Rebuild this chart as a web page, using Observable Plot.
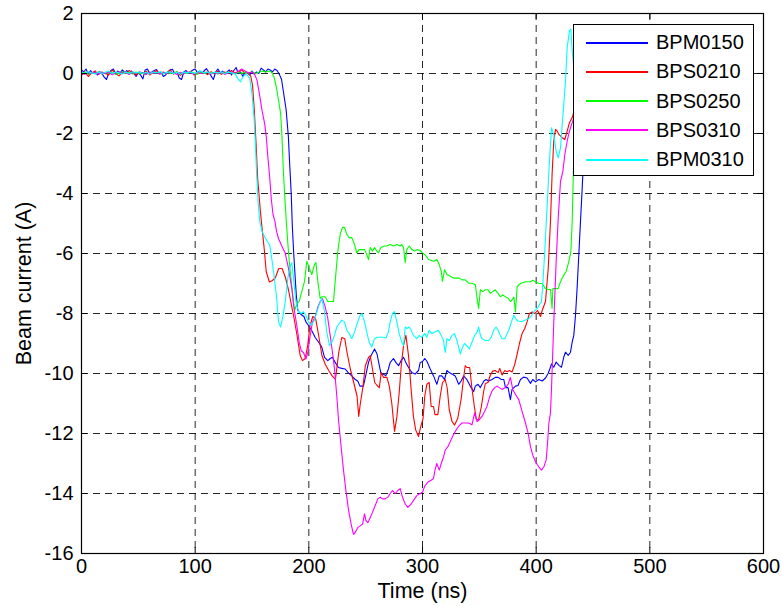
<!DOCTYPE html>
<html>
<head>
<meta charset="utf-8">
<script src="https://cdn.jsdelivr.net/npm/d3@7"></script>
<script src="https://cdn.jsdelivr.net/npm/@observablehq/plot@0.6"></script>
<style>
  html, body { margin: 0; padding: 0; background: #fff; }
  #wrap { position: relative; width: 782px; height: 606px; font-family: "Liberation Sans", Arial, Helvetica, sans-serif; }
  #legend { position: absolute; left: 573px; top: 24px; width: 181px; height: 152px; border: 1px solid #000; background: #fff; box-sizing: border-box; }
  .row { position: absolute; left: 0; height: 29px; display: flex; align-items: center; font-size: 20px; color: #000; }
  .sw { display: inline-block; width: 62px; height: 2px; margin-left: 12px; margin-right: 8px; }
</style>
</head>
<body>
<div id="wrap"><div id="chart"></div><div id="legend"></div></div>
<script>
// ---- data (time in ns, beam current in A) ----
const seriesNames = ["BPM0150", "BPS0210", "BPS0250", "BPS0310", "BPM0310"];
const seriesColors = ["#0000ff", "#ff0000", "#00ff00", "#ff00ff", "#00ffff"];
const xTicks = [0, 100, 200, 300, 400, 500, 600];
const yTicks = [-16, -14, -12, -10, -8, -6, -4, -2, 0, 2];

const bpm0150 = [[0,0.12],[2,0.05],[4,0.15],[6,-0.02],[8,0.1],[10,0.0],[12,0.08],[14,-0.05],[16,0.06],[18,0.0],[20,-0.12],[22,-0.2],[24,0.02],[26,0.1],[28,0.15],[30,0.0],[32,0.08],[34,0.02],[36,0.12],[38,0.03],[40,0.1],[42,-0.02],[44,0.08],[46,0.0],[48,-0.1],[50,0.02],[52,-0.05],[54,-0.18],[56,0.12],[58,0.15],[60,0.0],[62,0.05],[64,0.1],[66,0.13],[68,0.0],[70,0.05],[72,-0.1],[74,-0.05],[76,0.05],[78,0.12],[80,0.14],[82,0.0],[84,0.05],[86,-0.15],[88,-0.2],[90,0.05],[92,0.1],[94,0.0],[96,0.05],[98,0.12],[100,0.15],[102,0.02],[104,0.08],[106,0.0],[108,0.1],[110,0.16],[112,0.05],[114,-0.08],[116,-0.2],[118,0.05],[120,0.15],[122,0.02],[124,0.08],[126,0.0],[128,0.05],[130,0.12],[132,-0.05],[134,0.1],[136,0.2],[138,0.0],[140,0.05],[142,-0.1],[144,0.05],[146,0.02],[148,-0.05],[150,0.08],[152,-0.02],[154,0.05],[156,0.0],[158,0.18],[160,0.12],[162,0.05],[164,0.15],[166,0.12],[168,0.05],[170,0.15],[172,0.1],[174,-0.02],[176,-0.2],[178,-0.7],[180,-1.2],[182,-2.1],[183,-2.9],[184.5,-4.0],[185.5,-5.1],[186.7,-6.0],[188,-6.8],[189,-7.4],[190.3,-7.9],[192.5,-8.0],[194,-8.06],[195.7,-8.1],[197.4,-8.28],[199.7,-8.4],[203,-8.6],[205.6,-8.8],[208.5,-8.95],[211.4,-9.12],[213.8,-9.46],[216.7,-9.57],[218.8,-9.5],[220.8,-9.46],[223.2,-9.63],[226,-9.8],[229,-9.83],[232,-9.85],[235,-9.99],[237.8,-10.08],[240.8,-10.2],[243,-10.25],[245,-10.42],[248,-10.42],[250,-10.08],[252.5,-9.63],[254.8,-9.4],[257.8,-9.18],[260,-9.35],[262,-9.74],[263.6,-10.02],[265.7,-10.02],[267.7,-10.08],[270,-9.85],[271.6,-9.63],[274.5,-9.5],[276.5,-9.63],[279,-9.74],[281.2,-9.57],[283.3,-9.46],[285.3,-9.63],[287.7,-9.8],[290.6,-9.97],[293.5,-10.02],[296.5,-9.9],[298,-9.63],[300,-9.6],[302,-9.5],[304,-9.6],[306.8,-9.85],[309.7,-10.08],[312.6,-10.36],[314.7,-10.08],[317,-10.08],[319.4,-10.2],[321.5,-9.9],[323.5,-9.97],[325.9,-10.02],[328.8,-10.08],[331.8,-10.36],[334,-10.25],[336.2,-10.08],[339,-10.2],[342,-10.42],[345,-10.6],[346.5,-10.42],[348.8,-10.36],[350.9,-10.47],[352.4,-10.36],[354,-10.25],[355.9,-10.2],[358.2,-10.25],[361.2,-10.2],[364,-10.13],[366.5,-10.13],[369.4,-10.2],[371.5,-10.2],[373,-10.47],[375.3,-10.47],[377.3,-10.87],[378.8,-10.53],[381.8,-10.42],[384,-10.4],[386.2,-10.2],[389,-10.12],[392,-10.15],[395,-10.33],[397,-10.2],[399.4,-10.28],[402.3,-10.2],[405.3,-10.25],[408.2,-10.15],[410.5,-10.0],[412,-9.85],[413.5,-9.68],[415.5,-9.79],[417.6,-9.62],[420,-9.73],[422.3,-9.79],[424.3,-9.45],[425.8,-9.29],[428.2,-9.4],[430.2,-9.29],[431.7,-8.95],[433.1,-8.73],[434.6,-8.06],[436,-7.17],[437.5,-6.05],[439,-4.93],[440.5,-3.82],[442,-2.6],[443.5,-1.5],[445,-0.6],[447,-0.2],[450,0.0]];

const bps0210 = [[0,-0.05],[3,0.05],[6,-0.1],[9,0.02],[12,0.08],[15,-0.03],[18,0.05],[21,0.0],[24,-0.05],[27,0.12],[30,0.0],[33,-0.08],[36,0.05],[39,0.0],[42,0.1],[45,0.02],[48,-0.05],[51,0.05],[54,0.0],[57,0.08],[60,-0.05],[63,0.03],[66,0.1],[69,-0.02],[72,0.05],[75,0.0],[78,0.12],[81,-0.02],[84,0.05],[87,-0.06],[90,0.04],[93,0.0],[96,0.08],[99,-0.05],[102,0.03],[105,0.0],[108,0.05],[111,-0.04],[114,0.06],[117,0.0],[120,0.08],[123,-0.03],[126,0.05],[129,0.0],[132,0.1],[135,0.02],[138,0.05],[141,0.12],[144,0.0],[147,0.02],[149,-0.1],[150.5,-0.4],[152,-1.2],[153.6,-2.35],[155,-3.5],[157.4,-4.6],[158.8,-5.13],[160.9,-5.9],[162.5,-6.6],[165.3,-6.95],[168,-6.9],[170.6,-6.8],[173.5,-6.5],[176.5,-6.5],[179.4,-6.8],[182,-7.2],[184.6,-7.7],[186.5,-8.05],[189.5,-8.7],[192.4,-9.4],[194.4,-9.57],[196.8,-9.5],[199,-9.07],[201,-8.4],[203.5,-8.1],[206,-8.17],[208.5,-8.7],[211.5,-9.4],[214.5,-9.7],[217.5,-9.9],[220.5,-10.08],[223.4,-10.2],[226.3,-9.3],[229,-8.8],[231.6,-8.84],[233.6,-9.3],[236.5,-9.85],[239.5,-10.3],[242.4,-10.75],[243.9,-11.43],[245.3,-11.0],[247.4,-10.5],[249.7,-9.74],[252.6,-9.46],[254,-9.4],[256,-9.85],[258,-10.3],[260,-10.4],[262,-10.47],[263.7,-9.97],[265.8,-10.13],[268.7,-10.13],[270.8,-10.42],[273,-11.0],[275.4,-11.93],[277.5,-11.43],[279.5,-10.64],[281.3,-9.74],[283.3,-9.07],[285.4,-8.73],[287.7,-9.4],[290,-10.53],[292,-11.43],[294,-11.88],[296.5,-12.1],[298.5,-11.76],[300.5,-11.5],[302,-10.75],[303.8,-10.36],[305.9,-10.3],[307.6,-11.1],[309.7,-11.1],[311,-11.37],[313.5,-11.37],[315.6,-10.75],[317.6,-10.3],[320,-10.2],[321.8,-10.5],[323.5,-11.2],[326,-11.6],[328.2,-11.72],[331,-11.5],[334,-10.85],[336,-10.2],[337.6,-9.74],[339,-9.8],[341.5,-9.8],[343.5,-10.5],[345.6,-11.1],[347.4,-11.54],[349.4,-11.54],[351.8,-11.1],[353.8,-10.6],[355.3,-10.33],[357.6,-10.3],[359.7,-10.05],[361.8,-9.92],[364,-9.9],[366.5,-9.97],[368,-9.83],[370,-10.05],[372.4,-9.9],[374.4,-9.94],[376.5,-9.9],[378.8,-9.95],[381,-9.72],[383,-9.4],[385.3,-9.0],[387.6,-8.67],[390,-8.5],[392,-8.28],[394,-8.0],[396.5,-7.95],[398.8,-8.0],[401.2,-7.9],[403.8,-8.1],[405.3,-7.9],[408.2,-7.6],[410.6,-6.5],[412.6,-4.93],[414,-3.37],[415.5,-2.25],[417,-1.86],[418.5,-1.92],[420,-2.03],[422.9,-2.14],[425.2,-2.2],[427.3,-1.92],[429.3,-1.64],[431.7,-1.47],[433.4,-1.25],[436,-1.1],[440,-0.6],[445,-0.2],[450,0.0]];

const bps0250 = [[0,0.0],[3,0.05],[6,-0.03],[9,0.04],[12,0.0],[15,0.06],[18,-0.02],[21,0.03],[24,0.0],[27,0.05],[30,-0.03],[33,0.02],[36,0.06],[39,0.0],[42,0.04],[45,-0.02],[48,0.05],[51,0.0],[54,0.03],[57,-0.03],[60,0.05],[63,0.0],[66,0.04],[69,0.02],[72,-0.02],[75,0.05],[78,0.0],[81,0.03],[84,0.06],[87,-0.02],[90,0.03],[93,0.0],[96,0.05],[99,0.02],[102,-0.03],[105,0.04],[108,0.0],[111,0.05],[114,0.01],[117,0.04],[120,-0.02],[123,0.03],[126,0.0],[129,0.05],[132,0.02],[135,-0.02],[138,0.04],[141,0.0],[144,0.05],[147,0.02],[150,0.06],[153,0.0],[156,0.04],[159,0.08],[162,0.05],[165,0.08],[167,0.05],[169.3,-0.11],[171.4,-0.45],[173.4,-0.9],[175.2,-1.34],[176.4,-2.13],[177.6,-3.25],[178.7,-4.03],[180.2,-4.93],[181.6,-5.7],[182.8,-6.27],[184,-6.72],[185.2,-7.17],[186.4,-7.62],[187.5,-7.9],[189.3,-7.7],[191.5,-7.6],[193.8,-7.27],[196.2,-6.93],[198.2,-6.26],[200.3,-6.48],[202.6,-6.7],[205,-6.37],[206.2,-6.3],[207.9,-6.93],[210,-7.5],[211.4,-7.44],[214.4,-7.44],[216.7,-7.6],[219.6,-7.6],[221.7,-7.6],[223.2,-6.93],[225.5,-5.92],[227.6,-5.36],[229.6,-5.13],[231.4,-5.13],[233.4,-5.36],[235.5,-5.47],[237.8,-5.47],[240.2,-5.7],[242.2,-5.98],[244.3,-5.87],[246.6,-5.87],[249,-5.87],[250.4,-5.98],[252.5,-6.2],[254,-5.8],[256,-5.92],[257.8,-5.8],[259.8,-5.92],[261.3,-5.98],[263.3,-5.8],[266.6,-5.75],[268.6,-5.75],[271.6,-5.7],[274.5,-5.75],[277.4,-5.7],[280.4,-5.75],[281.8,-5.7],[283.3,-5.8],[284.8,-6.31],[286.2,-5.87],[288.3,-5.75],[290.6,-5.87],[293,-5.92],[295,-5.87],[298,-5.9],[300,-5.98],[302.4,-6.05],[305.3,-6.2],[309.7,-6.26],[312.6,-6.2],[314.7,-6.37],[316.5,-6.6],[317.6,-6.93],[319.4,-6.54],[321.5,-6.7],[324.4,-6.76],[327.4,-6.82],[330.3,-6.82],[332.4,-6.82],[334.7,-6.88],[337.6,-6.88],[340.6,-6.99],[343.5,-6.99],[346.5,-7.04],[348,-7.49],[349.4,-7.83],[350.9,-7.21],[352.9,-7.27],[355.3,-7.21],[357.6,-7.21],[359.7,-7.33],[361.8,-7.27],[364,-7.21],[366.5,-7.33],[368.5,-7.44],[370.6,-7.38],[372.9,-7.44],[375.3,-7.49],[377.4,-7.6],[378.8,-7.55],[380.4,-7.45],[381.8,-7.95],[383.3,-7.1],[386.2,-7.0],[390.6,-6.94],[395,-6.94],[397,-6.89],[399.4,-6.94],[402.3,-7.0],[405.3,-7.0],[408.2,-7.17],[410.6,-7.2],[412.6,-7.2],[414,-7.83],[414.7,-7.17],[417,-7.17],[419.4,-7.17],[421.4,-6.94],[424.3,-6.72],[426.4,-6.6],[428.7,-6.27],[430.5,-5.94],[431.7,-4.93],[433.1,-2.7],[434.5,-1.2],[436,-0.4],[440,-0.1],[445,0.0],[450,0.0]];

const bps0310 = [[0,0.02],[3,-0.03],[6,0.04],[9,0.0],[12,0.05],[15,-0.02],[18,0.03],[21,0.0],[24,0.05],[27,-0.04],[30,0.02],[33,0.06],[36,0.0],[39,0.03],[42,-0.03],[45,0.04],[48,0.0],[51,0.05],[54,0.02],[57,-0.03],[60,0.04],[63,0.0],[66,0.05],[69,-0.02],[72,0.03],[75,0.0],[78,0.05],[81,0.02],[84,-0.03],[87,0.04],[90,0.0],[93,0.05],[96,0.02],[99,-0.02],[102,0.04],[105,0.0],[108,0.03],[111,0.05],[114,-0.02],[117,0.03],[120,0.0],[123,0.04],[126,-0.03],[129,0.02],[132,0.05],[135,0.0],[138,0.08],[141,0.15],[144,0.08],[147,0.02],[150,0.05],[152,0.0],[154.4,-0.22],[156.5,-0.67],[158.8,-1.23],[161.2,-1.68],[162.6,-2.13],[164,-2.8],[165.6,-3.47],[167,-4.2],[168.5,-4.7],[170.2,-4.93],[171.6,-5.26],[173.3,-5.5],[176.2,-5.75],[179.2,-5.98],[182,-6.48],[185,-7.16],[187.4,-7.94],[189.4,-8.39],[191.5,-8.96],[193.3,-9.24],[195.3,-9.3],[197.4,-9.52],[199.1,-9.3],[201.2,-8.73],[203.2,-8.28],[205.6,-8.11],[207.9,-7.78],[210,-7.6],[212,-7.5],[214.4,-7.78],[216.7,-8.17],[218.8,-8.73],[220.8,-9.3],[222.6,-9.85],[224.6,-10.75],[226.1,-11.54],[228.4,-12.44],[230.5,-13.22],[232.6,-13.9],[235,-14.57],[237.2,-15.02],[239.3,-15.36],[240.8,-15.3],[243.1,-15.13],[245.2,-15.08],[247.3,-15.02],[249,-14.68],[250.2,-14.9],[252,-14.97],[254,-14.8],[256,-14.63],[258.4,-14.4],[260.7,-14.18],[262.8,-14.12],[264.8,-14.18],[267.2,-14.18],[269.5,-14.12],[271.6,-14.0],[273.6,-13.9],[276,-14.0],[278.3,-13.9],[280.4,-13.84],[282.4,-14.12],[284.8,-14.35],[287.1,-14.46],[290,-14.35],[293,-14.18],[295,-14.07],[298,-14.0],[300,-13.96],[302,-13.75],[304.7,-13.62],[307.6,-13.56],[309.7,-13.5],[311,-13.22],[312.6,-13.0],[314.7,-13.22],[316.5,-13.0],[318.5,-12.78],[320,-12.55],[322.4,-12.44],[324.4,-12.27],[326.5,-12.1],[328.8,-11.93],[331.8,-11.76],[334.7,-11.65],[337.6,-11.65],[340.6,-11.65],[343.5,-11.71],[345.9,-11.31],[348,-11.6],[350,-11.54],[352.4,-11.43],[354.7,-11.26],[356.8,-11.09],[358.8,-10.81],[361.2,-10.58],[363.5,-10.47],[365.6,-10.42],[367.6,-10.47],[370,-10.53],[372.9,-10.47],[375.3,-10.36],[377.3,-10.13],[379.4,-10.53],[381.8,-10.7],[384.7,-10.87],[387.6,-11.26],[390.6,-11.65],[392.9,-11.99],[395,-12.44],[397,-12.72],[399.4,-12.94],[402.3,-13.11],[404.7,-13.22],[406.8,-13.11],[408.8,-12.88],[410,-12.33],[411.2,-11.65],[412.6,-11.31],[413.5,-10.5],[415.5,-8.28],[417.6,-6.27],[419.4,-4.82],[421.4,-3.6],[423.5,-3.26],[425.2,-2.7],[427.3,-2.25],[429.3,-1.92],[431.7,-1.64],[434,-1.36],[437,-1.0],[441,-0.5],[445,-0.1],[450,0.0]];

const bpm0310 = [[0,0.05],[3,0.0],[6,0.06],[9,0.02],[12,-0.02],[15,0.05],[18,0.0],[21,0.04],[24,0.08],[27,0.0],[30,0.05],[33,0.02],[36,-0.02],[39,0.05],[42,0.0],[45,0.06],[48,0.02],[51,0.05],[54,0.0],[57,0.04],[60,-0.02],[63,0.05],[66,0.02],[69,0.06],[72,0.0],[75,0.03],[78,0.06],[81,0.0],[84,0.04],[87,-0.02],[90,0.05],[93,0.02],[96,0.05],[99,0.0],[102,0.04],[105,0.08],[108,0.02],[111,0.05],[114,0.0],[117,0.04],[120,0.02],[123,0.06],[126,0.0],[129,0.04],[132,0.02],[135,0.0],[137.6,-0.17],[140,-0.28],[142,-0.11],[145,0.0],[148,-0.17],[150,-0.67],[151.8,-1.46],[153,-2.35],[154.1,-3.36],[155.3,-4.26],[156.8,-4.93],[158.8,-5.26],[161.2,-5.45],[163.5,-5.6],[165.6,-5.72],[167.5,-6.2],[169.3,-6.7],[171.6,-7.45],[173.3,-8.28],[175.2,-8.45],[177.4,-8.06],[179.6,-7.5],[181.5,-6.82],[183.6,-6.43],[185,-6.31],[186.5,-6.82],[188.6,-7.6],[190.9,-7.94],[193.3,-8.0],[195.3,-7.94],[197.4,-8.06],[199.7,-8.28],[202,-8.39],[205,-8.22],[207,-7.94],[209,-7.72],[211.4,-7.5],[213.8,-7.94],[215.8,-8.62],[218.2,-9.07],[220.2,-8.96],[222.6,-8.73],[224.6,-8.45],[226.7,-8.34],[229,-8.22],[231.4,-8.28],[233.4,-8.56],[235.5,-8.67],[237.8,-8.84],[240.2,-8.62],[243,-8.28],[245.2,-8.06],[246.6,-8.0],[249,-8.28],[251,-8.62],[253,-8.95],[255.4,-9.12],[257.8,-8.84],[259.8,-8.79],[262.8,-8.79],[265.7,-8.79],[267.8,-8.82],[270,-8.62],[271.6,-8.28],[273.6,-8.0],[275.4,-7.94],[277.4,-8.28],[279.5,-8.67],[281.8,-8.96],[283.3,-9.07],[284.8,-8.45],[286.2,-8.5],[288.3,-8.45],[290,-8.56],[292,-8.73],[295,-8.84],[297,-8.73],[299.4,-8.79],[301.8,-8.67],[303.8,-8.79],[305.9,-8.56],[308.2,-8.67],[311,-8.62],[314,-8.56],[316.5,-8.73],[318.5,-8.9],[320,-9.3],[321.5,-8.84],[323.5,-8.9],[325.9,-8.73],[328.2,-8.67],[330.3,-8.9],[331.8,-9.12],[333.2,-9.35],[335.3,-9.12],[337,-9.0],[339,-9.07],[341.2,-9.18],[343.5,-8.96],[345.9,-8.73],[348,-8.62],[349.4,-8.45],[351,-8.73],[352.4,-8.84],[355.3,-8.9],[358.2,-8.9],[360.6,-8.79],[362.6,-8.56],[364.7,-8.45],[366.5,-8.56],[368.5,-8.73],[370,-8.84],[372.4,-8.84],[374.4,-8.67],[376.5,-8.5],[378.2,-8.28],[380.3,-8.06],[381.8,-8.17],[384,-8.25],[387.6,-8.27],[390.6,-8.22],[393.5,-8.17],[396,-8.06],[398,-7.94],[400.9,-7.83],[403,-7.7],[404.7,-7.6],[405.9,-7.0],[407.6,-5.9],[409.7,-4.38],[411.7,-2.92],[413.5,-1.81],[415.5,-2.03],[417.6,-2.6],[419.4,-2.81],[421.4,-2.48],[422.9,-1.7],[424.3,-1.03],[425.8,-0.25],[427.3,0.87],[429.3,1.43],[430.5,1.48],[431.7,0.76],[433.1,0.2],[436,0.0],[440,0.05],[445,0.0],[450,0.0]];

const seriesData = [bpm0150, bps0210, bps0250, bps0310, bpm0310];

// ---- chart ----
const W = 782, H = 606;
const mL = 81, mR = 19, mT = 13, mB = 53;
const plotW = W - mL - mR, plotH = H - mT - mB;
const tickLen = 6;
const font = "'Liberation Sans', Arial, Helvetica, sans-serif";

const lineMarks = seriesData.map((pts, i) =>
  Plot.line(pts, {x: d => d[0], y: d => d[1], stroke: seriesColors[i], strokeWidth: 1.1})
);

const chart = Plot.plot({
  width: W, height: H,
  marginLeft: mL, marginRight: mR, marginTop: mT, marginBottom: mB,
  style: {fontFamily: font, fontSize: "20px", background: "#fff", color: "#000", overflow: "visible"},
  x: {domain: [0, 600]},
  y: {domain: [-16, 2]},
  marks: [
    Plot.gridX(xTicks.slice(1, -1), {stroke: "#000", strokeOpacity: 0.85, strokeWidth: 1, strokeDasharray: "7,5"}),
    Plot.gridY(yTicks.slice(1, -1), {stroke: "#000", strokeOpacity: 0.85, strokeWidth: 1, strokeDasharray: "7,5"}),
    ...lineMarks,
    Plot.tickX(xTicks, {x: d => d, stroke: "#000", insetTop: plotH - tickLen}),
    Plot.tickX(xTicks, {x: d => d, stroke: "#000", insetBottom: plotH - tickLen}),
    Plot.tickY(yTicks, {y: d => d, stroke: "#000", insetRight: plotW - tickLen}),
    Plot.tickY(yTicks, {y: d => d, stroke: "#000", insetLeft: plotW - tickLen}),
    Plot.frame({stroke: "#000", strokeWidth: 1.2}),
    Plot.axisX(xTicks, {tickSize: 0, tickPadding: 5, tickFormat: d => String(d), fontSize: 20,
      label: "Time (ns)", labelArrow: "none", labelAnchor: "center", labelOffset: 44}),
    Plot.axisY(yTicks, {tickSize: 0, tickPadding: 8, tickFormat: d => String(d), fontSize: 20,
      label: "Beam current (A)", labelArrow: "none", labelAnchor: "center", labelOffset: 66})
  ]
});
// axis titles slightly larger than tick labels, as in the original
chart.querySelectorAll('g[aria-label$="axis label"]').forEach(g => g.setAttribute("font-size", 21.5));
document.getElementById("chart").appendChild(chart);

// ---- legend (drawn above the plot, like the original) ----
const legend = document.getElementById("legend");
seriesNames.forEach((name, i) => {
  const row = document.createElement("div");
  row.className = "row";
  row.style.top = (3 + i * 29.3) + "px";
  const sw = document.createElement("span");
  sw.className = "sw";
  sw.style.background = seriesColors[i];
  const tx = document.createElement("span");
  tx.textContent = name;
  row.appendChild(sw);
  row.appendChild(tx);
  legend.appendChild(row);
});
</script>
</body>
</html>
